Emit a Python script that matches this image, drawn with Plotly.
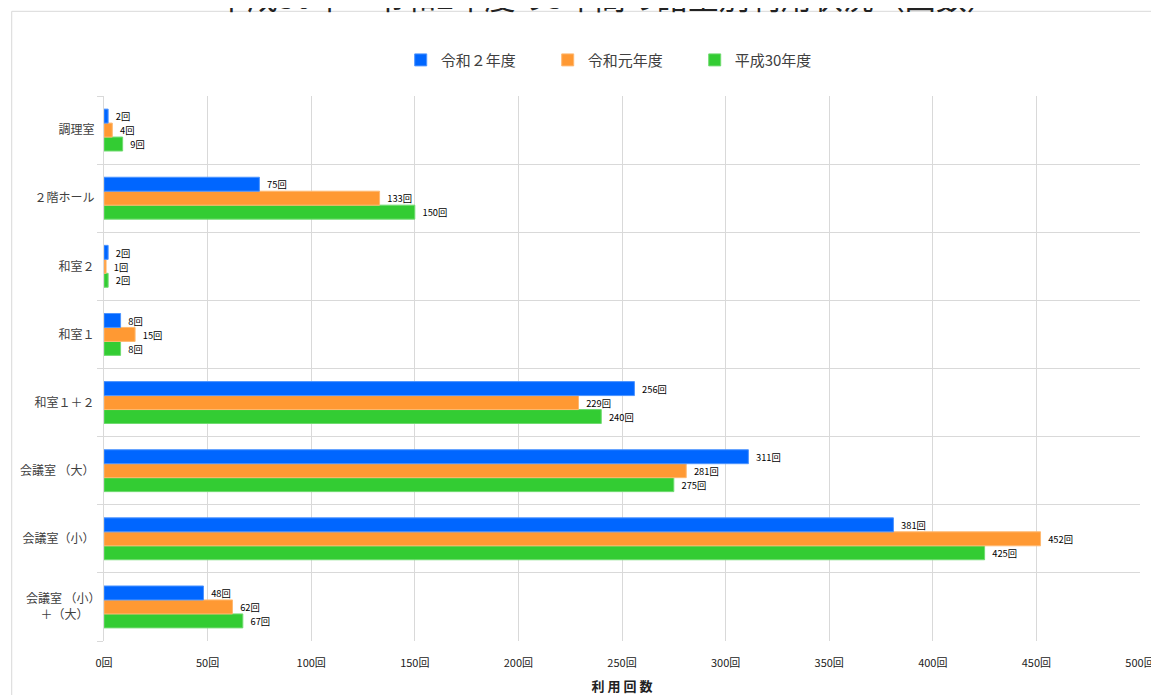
import plotly.graph_objects as go

categories = ["調理室", "２階ホール", "和室２", "和室１", "和室１＋２",
              "会議室 （大）", "会議室（小）", "会議室 （小）<br>＋（大）\u3000"]
r2 = [2, 75, 2, 8, 256, 311, 381, 48]
r1 = [4, 133, 1, 15, 229, 281, 452, 62]
h30 = [9, 150, 2, 8, 240, 275, 425, 67]
series_names = ["令和２年度", "令和元年度", "平成30年度"]
colors = ["#0066FF", "#FF9933", "#33CC33"]
line_colors = ["#4D94FF", "#FFB870", "#70DB70"]
xticks = [0, 50, 100, 150, 200, 250, 300, 350, 400, 450, 500]

FONT = "Noto Sans CJK JP"
PW, PH = 1044, 547  # plot area size in px

fig = go.Figure()
# Plotly draws the first trace at the bottom of each group, so add in reverse
for name, vals, c, lc, rank in [
    (series_names[2], h30, colors[2], line_colors[2], 3),
    (series_names[1], r1, colors[1], line_colors[1], 2),
    (series_names[0], r2, colors[0], line_colors[0], 1),
]:
    fig.add_trace(go.Bar(
        y=categories, x=vals, name=name, orientation="h",
        marker=dict(color=c, line=dict(color=lc, width=1)),
        text=[f"\u2002{v}回" for v in vals], textposition="outside",
        textfont=dict(size=10, color="#000000", family=FONT),
        cliponaxis=False, legendrank=rank,
    ))

fig.update_layout(
    width=1159, height=695,
    margin=dict(l=95, r=19, t=88, b=60),
    paper_bgcolor="white", plot_bgcolor="white",
    barmode="group", bargap=0.385, bargroupgap=0,
    font=dict(family=FONT, size=12, color="#404040"),
    legend=dict(orientation="h", x=(402 - 103) / PW, xanchor="left",
                y=1 + 36 / PH, yanchor="middle",
                font=dict(size=15, color="#404040"), entrywidth=102,
                entrywidthmode="pixels", itemwidth=30, traceorder="normal"),
    xaxis=dict(range=[0, 500], tickvals=xticks, ticktext=[f"{v}回" for v in xticks],
               showgrid=True, gridcolor="#D9D9D9", gridwidth=1, zeroline=False,
               ticks="outside", ticklen=12, tickcolor="rgba(0,0,0,0)",
               tickfont=dict(size=11, color="#222222"),
               title=dict(text="<b>利 用 回 数</b>", font=dict(size=13, color="#222222"),
                          standoff=12),
               showline=False, fixedrange=True),
    yaxis=dict(type="category", categoryorder="array",
               categoryarray=list(reversed(categories)),
               tickson="boundaries", ticks="outside", ticklen=6, tickcolor="#D9D9D9",
               showgrid=True, gridcolor="#D9D9D9", gridwidth=1,
               showline=True, linecolor="#D9D9D9",
               tickfont=dict(size=12, color="#404040"), ticksuffix="\u2002"),
    annotations=[dict(text="平成30年～令和2年度の3年間の諸室別利用状況（回数）",
                      xref="paper", yref="paper", x=(610 - 103) / PW, y=1 + 101 / PH,
                      xanchor="center", yanchor="middle", showarrow=False,
                      font=dict(size=31, color="#222222", family=FONT))],
    shapes=[dict(type="line", xref="paper", yref="paper",
                 x0=-93 / PW, x1=-93 / PW, y0=1 + 85 / PH, y1=-70 / PH,
                 line=dict(color="#D9D9D9", width=1)),
            dict(type="line", xref="paper", yref="paper",
                 x0=-93 / PW, x1=1.02, y0=1 + 85 / PH, y1=1 + 85 / PH,
                 line=dict(color="#D9D9D9", width=1))],
)

fig.write_html("out.html")
